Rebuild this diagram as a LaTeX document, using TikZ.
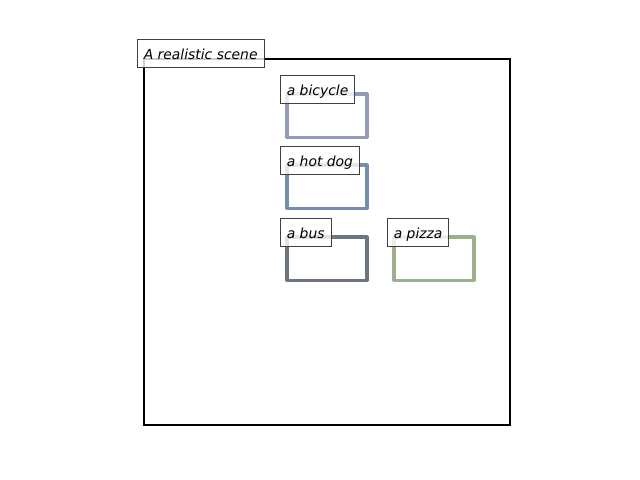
\documentclass[tikz,border=0pt]{standalone}
\usepackage{fontspec}
\setmainfont{DejaVu Sans}
\usetikzlibrary{positioning}

\definecolor{bikecol}{RGB}{146,156,184}
\definecolor{dogcol}{RGB}{118,141,171}
\definecolor{buscol}{RGB}{108,117,128}
\definecolor{pizzacol}{RGB}{158,175,142}

\tikzset{
    obj/.style={draw, rectangle, line width=2.2pt, line join=round, minimum width=57.6pt, minimum height=31pt, inner sep=0pt},
    tag/.style={draw=black!75, fill=white, fill opacity=0.8, text opacity=1, line width=0.6pt, rectangle, anchor=south west, inner xsep=4.6pt, inner ysep=0pt, minimum height=20pt, text height=9pt, text depth=1pt, font=\itshape\fontsize{10}{12}\selectfont},
}

\begin{document}
\begin{tikzpicture}[x=0.72pt, y=-0.72pt]

    \useasboundingbox (0,0) rectangle (640,480);

    % Scene
    \node at (327,242) (scene) [draw, rectangle, line width=1.44pt, minimum width=263.5pt, minimum height=263.5pt, inner sep=0pt] {};

    % Objects
    \node at (327,115.5) (bicycle) [obj, draw=bikecol] {};
    \node at (327,186.5) (hotdog) [obj, draw=dogcol] {};
    \node at (327,258.5) (bus) [obj, draw=buscol] {};
    \node at (434,258.5) (pizza) [obj, draw=pizzacol] {};

    % Labels
    \node at (137,68) (scenetag) [tag] {A realistic scene};
    \node at (280,104) (bicycletag) [tag] {a bicycle};
    \node at (280,175) (hotdogtag) [tag] {a hot dog};
    \node at (280,247) (bustag) [tag] {a bus};
    \node at (387,247) (pizzatag) [tag] {a pizza};

\end{tikzpicture}
\end{document}
